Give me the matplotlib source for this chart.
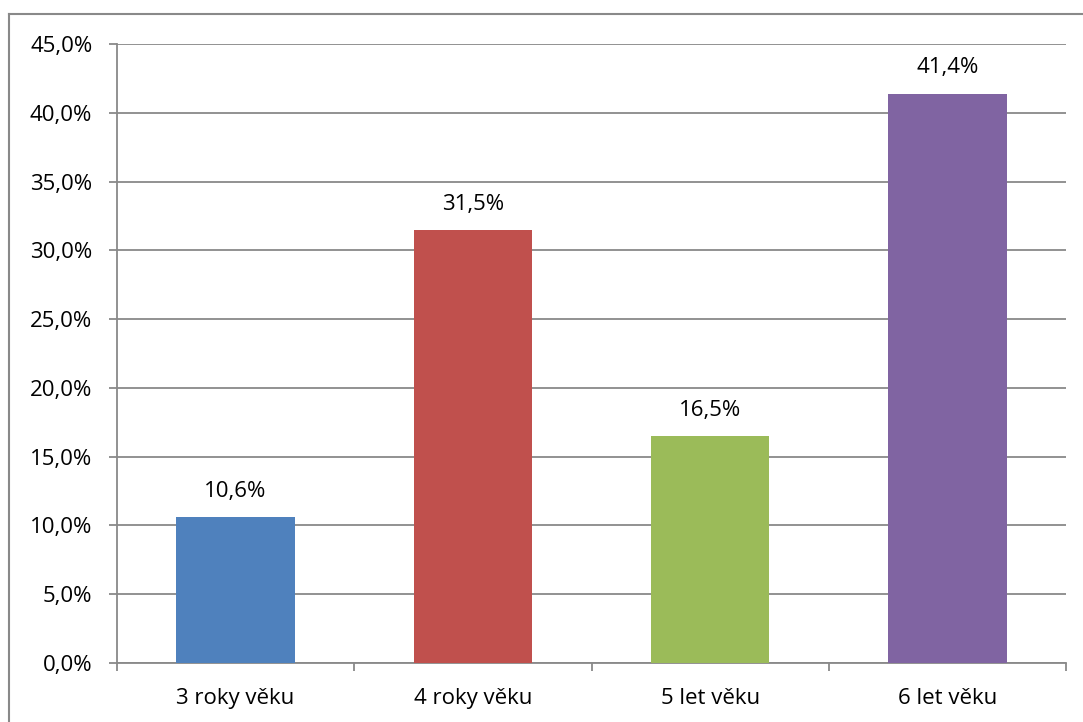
import matplotlib.pyplot as plt
from matplotlib.lines import Line2D
from matplotlib.ticker import FuncFormatter, MultipleLocator

categories = ['3 roky věku', '4 roky věku', '5 let věku', '6 let věku']
values = [10.6, 31.5, 16.5, 41.4]
colors = ['#4F81BD', '#C0504D', '#9BBB59', '#8064A2']

plt.rcParams['font.family'] = ['Open Sans', 'DejaVu Sans']
grid_color = '#898989'
fsize = 16

fig = plt.figure(figsize=(10.83, 7.22), dpi=100)
ax = fig.add_axes([117 / 1083, 59 / 722, 949 / 1083, 619 / 722])

x = range(len(categories))
ax.bar(x, values, width=0.5, color=colors, zorder=3)
for i, v in enumerate(values):
    ax.text(i, v + 1.1, f'{v:.1f}%'.replace('.', ','), ha='center', va='bottom',
            fontsize=fsize, color='#000000')

ax.set_xlim(-0.5, len(categories) - 0.5)
ax.set_ylim(0, 45)
ax.yaxis.set_major_locator(MultipleLocator(5))
ax.yaxis.set_major_formatter(FuncFormatter(lambda v, p: f'{v:.1f}%'.replace('.', ',')))
ax.grid(axis='y', color=grid_color, linewidth=1.3, zorder=0)

# ticks at category boundaries, labels centred under the bars
ax.set_xticks([i - 0.5 for i in range(len(categories) + 1)], minor=False)
ax.set_xticklabels([])
ax.set_xticks(list(x), minor=True)
ax.set_xticklabels(categories, minor=True)
ax.tick_params(axis='x', which='major', length=5.8, width=1.3, color=grid_color, direction='out')
ax.tick_params(axis='x', which='minor', length=0, pad=18, labelsize=fsize)
ax.tick_params(axis='y', length=5.8, width=1.3, color=grid_color, labelsize=fsize, pad=12)

for side in ['top', 'right']:
    ax.spines[side].set_visible(False)
for side in ['left', 'bottom']:
    ax.spines[side].set_color(grid_color)
    ax.spines[side].set_linewidth(1.3)

# outer chart frame (left and top edges)
fig.add_artist(Line2D([8.5 / 1083, 8.5 / 1083], [0, 1 - 13.5 / 722], transform=fig.transFigure,
                      color=grid_color, linewidth=1.5))
fig.add_artist(Line2D([8.5 / 1083, 1], [1 - 13.5 / 722, 1 - 13.5 / 722], transform=fig.transFigure,
                      color=grid_color, linewidth=1.5))

fig.savefig('out.png', dpi=100)
